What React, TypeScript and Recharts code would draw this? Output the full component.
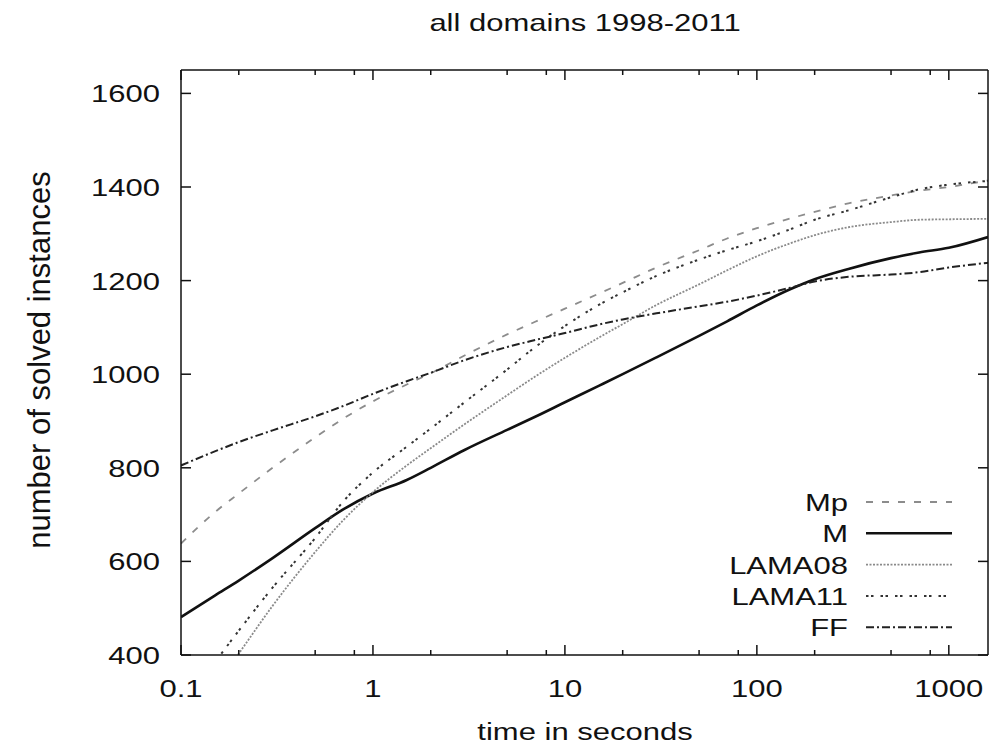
import { LineChart, Line, XAxis, YAxis } from "recharts";

// time in seconds (log axis)
const TIMES = [0.1, 0.15, 0.2, 0.3, 0.5, 0.7, 1, 1.5, 2, 3, 5, 7, 10, 15, 20, 30, 50, 70, 100, 150, 200, 300, 500, 700, 1000, 1600];

// number of solved instances per planner
const MP = [638, 705, 745, 800, 865, 905, 942, 978, 1002, 1040, 1085, 1112, 1140, 1172, 1195, 1228, 1265, 1290, 1312, 1333, 1347, 1365, 1382, 1392, 1400, 1414];
const M = [481, 527, 559, 607, 671, 711, 745, 774, 800, 838, 881, 909, 940, 975, 1000, 1036, 1082, 1113, 1147, 1182, 1203, 1225, 1248, 1260, 1270, 1293];
const LAMA08 = [260, 330, 403, 505, 620, 688, 748, 805, 842, 893, 955, 995, 1035, 1078, 1107, 1148, 1192, 1222, 1252, 1280, 1297, 1314, 1325, 1330, 1331, 1332];
const LAMA11 = [300, 385, 452, 544, 650, 728, 790, 845, 884, 940, 1010, 1058, 1103, 1148, 1175, 1210, 1245, 1265, 1284, 1310, 1330, 1350, 1378, 1395, 1405, 1413];
const FF = [805, 835, 855, 880, 910, 932, 958, 985, 1003, 1030, 1058, 1073, 1088, 1106, 1117, 1130, 1145, 1155, 1168, 1185, 1198, 1208, 1213, 1218, 1228, 1238];

const X_MAJOR = [0.1, 1, 10, 100, 1000];
const X_TICKS = [0.1, 0.2, 0.5, 0.8, 1, 2, 5, 8, 10, 20, 50, 80, 100, 200, 500, 800, 1000];
const Y_TICKS = [400, 600, 800, 1000, 1200, 1400, 1600];

const FONT = "'Liberation Sans', Arial, Helvetica, sans-serif";
const INK = "#111";
const FS = 31;
const SQUASH = 0.8; // text in the reference is flattened vertically

const data = TIMES.map((t, i) => ({
  t,
  Mp: MP[i],
  M: M[i],
  LAMA08: LAMA08[i],
  LAMA11: LAMA11[i],
  FF: FF[i],
}));

const SERIES = [
  { key: "Mp", stroke: "#8c8c8c", width: 1.8, dash: "7 9" },
  { key: "M", stroke: "#111", width: 2.6, dash: undefined },
  { key: "LAMA08", stroke: "#8a8a8a", width: 1.8, dash: "2 1.5" },
  { key: "LAMA11", stroke: "#333", width: 2, dash: "2.5 2.5 2.5 7" },
  { key: "FF", stroke: "#222", width: 2, dash: "8 3 2 3" },
];

// flattened label, (x, y) is the baseline anchor
const Flat = ({ x, y, anchor = "middle", size = FS, children }: any) => (
  <text
    transform={`translate(${x},${y}) scale(1,${SQUASH})`}
    textAnchor={anchor}
    fontSize={size}
    fill={INK}
    fontFamily={FONT}
  >
    {children}
  </text>
);

const BottomTick = ({ x, y, payload }: any) => {
  const major = X_MAJOR.includes(payload.value);
  return (
    <g>
      <line x1={x} x2={x} y1={y} y2={y - (major ? 10 : 5)} stroke={INK} strokeWidth={1.5} />
      {major && (
        <Flat x={x} y={y + 42}>
          {String(payload.value)}
        </Flat>
      )}
    </g>
  );
};

const TopTick = ({ x, y, payload }: any) => {
  const major = X_MAJOR.includes(payload.value);
  return <line x1={x} x2={x} y1={y} y2={y + (major ? 10 : 5)} stroke={INK} strokeWidth={1.5} />;
};

const LeftTick = ({ x, y, payload }: any) => (
  <g>
    <line x1={x} x2={x + 10} y1={y} y2={y} stroke={INK} strokeWidth={1.5} />
    <Flat x={x - 21} y={y + 9} anchor="end">
      {payload.value}
    </Flat>
  </g>
);

const RightTick = ({ x, y }: any) => (
  <line x1={x} x2={x - 10} y1={y} y2={y} stroke={INK} strokeWidth={1.5} />
);

function Overlay() {
  return (
    <svg width={994} height={750} style={{ position: "absolute", left: 0, top: 0, pointerEvents: "none" }}>
      <Flat x={585} y={31}>all domains 1998-2011</Flat>
      <Flat x={585} y={740}>time in seconds</Flat>
      <text
        transform="translate(50,360) rotate(-90)"
        textAnchor="middle"
        fontSize={31}
        fill={INK}
        fontFamily={FONT}
      >
        number of solved instances
      </text>
      {SERIES.map((s, i) => {
        const cy = 502 + i * 31.3;
        return (
          <g key={s.key}>
            <Flat x={848} y={cy + 9} anchor="end">
              {s.key}
            </Flat>
            <line x1={866} x2={952} y1={cy} y2={cy} stroke={s.stroke} strokeWidth={s.width} strokeDasharray={s.dash} />
          </g>
        );
      })}
    </svg>
  );
}

export default function App() {
  return (
    <div style={{ position: "absolute", left: 0, top: 0, width: 994, height: 750, background: "#fff" }}>
      <LineChart width={994} height={750} data={data} margin={{ top: 69, right: 5, bottom: 94, left: 180 }}>
        <XAxis
          dataKey="t"
          type="number"
          scale="log"
          domain={[0.1, 1600]}
          allowDataOverflow
          ticks={X_TICKS}
          interval={0}
          height={1}
          tickSize={0}
          tickMargin={0}
          tickLine={false}
          tick={<BottomTick />}
          axisLine={{ stroke: INK, strokeWidth: 1.5 }}
        />
        <XAxis
          xAxisId="top"
          orientation="top"
          dataKey="t"
          type="number"
          scale="log"
          domain={[0.1, 1600]}
          allowDataOverflow
          ticks={X_TICKS}
          interval={0}
          height={1}
          tickSize={0}
          tickMargin={0}
          tickLine={false}
          tick={<TopTick />}
          axisLine={{ stroke: INK, strokeWidth: 1.5 }}
        />
        <YAxis
          type="number"
          domain={[400, 1650]}
          allowDataOverflow
          ticks={Y_TICKS}
          interval={0}
          width={1}
          tickSize={0}
          tickMargin={0}
          tickLine={false}
          tick={<LeftTick />}
          axisLine={{ stroke: INK, strokeWidth: 1.5 }}
        />
        <YAxis
          yAxisId="right"
          orientation="right"
          type="number"
          domain={[400, 1650]}
          allowDataOverflow
          ticks={Y_TICKS}
          interval={0}
          width={1}
          tickSize={0}
          tickMargin={0}
          tickLine={false}
          tick={<RightTick />}
          axisLine={{ stroke: INK, strokeWidth: 1.5 }}
        />
        {SERIES.map((s) => (
          <Line
            key={s.key}
            dataKey={s.key}
            type="monotone"
            stroke={s.stroke}
            strokeWidth={s.width}
            strokeDasharray={s.dash}
            dot={false}
            activeDot={false}
            isAnimationActive={false}
          />
        ))}
      </LineChart>
      <Overlay />
    </div>
  );
}
